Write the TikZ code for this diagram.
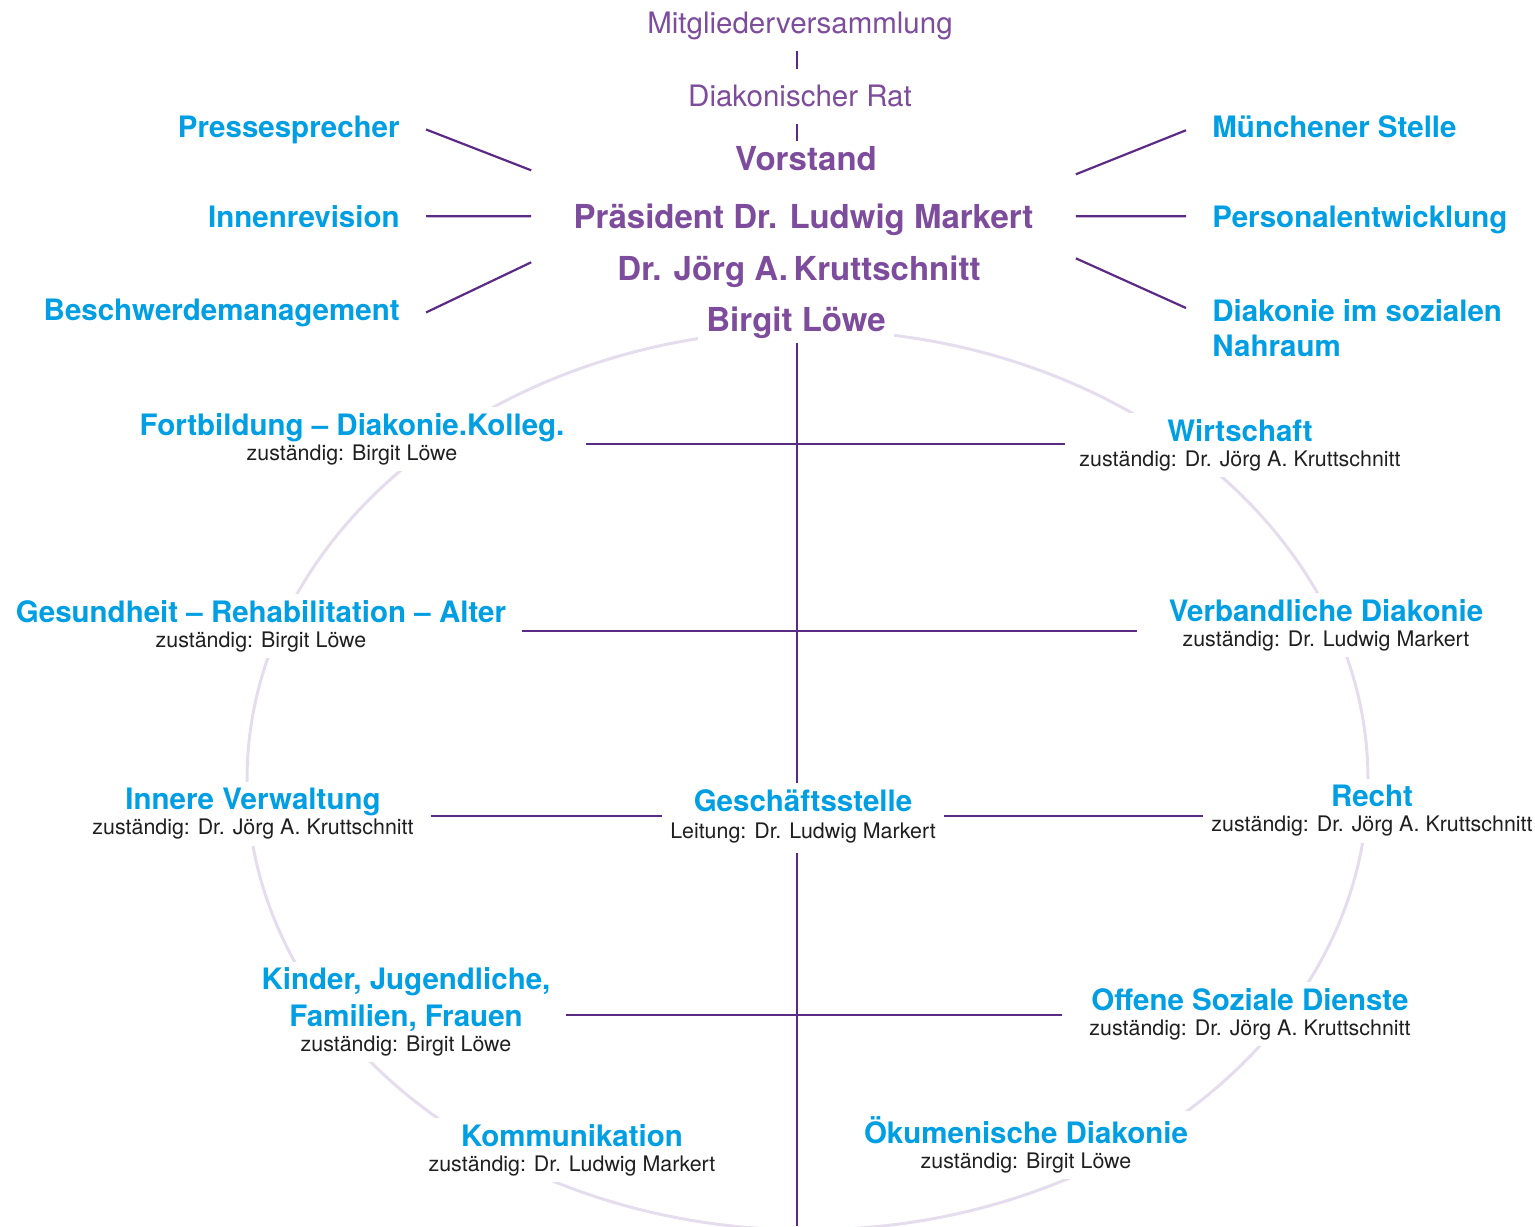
\documentclass[tikz,border=0pt]{standalone}
\usepackage{fontspec}
\setmainfont{TeX Gyre Heros}
\usetikzlibrary{positioning}

\definecolor{dwblau}{HTML}{009FE3}
\definecolor{dwlila}{HTML}{7D4C9C}
\definecolor{dwlinie}{HTML}{5A2A85}
\definecolor{dwring}{HTML}{E5DDEE}

\newcommand{\zfont}{\color{black!88}\mdseries\fontsize{10.7}{12.5}\selectfont}

\begin{document}
\begin{tikzpicture}[x=0.5pt, y=-0.5pt,
    link/.style={draw=dwlinie, line width=1.1pt},
    row/.style={draw=dwlinie, line width=1.4pt},
    gremium/.style={text=dwlila, inner sep=0pt, font=\fontsize{14.75}{17}\selectfont},
    vorstand/.style={text=dwlila, inner sep=0pt, font=\bfseries\fontsize{16.5}{20}\selectfont},
    stab/.style={text=dwblau, inner xsep=13pt, inner ysep=0pt, align=left, font=\bfseries\fontsize{14.75}{17.5}\selectfont},
    bereich/.style={text=dwblau, fill=white, inner xsep=4pt, inner ysep=3pt, align=center, font=\bfseries\fontsize{14.75}{12.5}\selectfont}]

  \useasboundingbox (0,0) rectangle (1535,1226);

  % ring behind the departments
  \draw[dwring, line width=1.5pt] (807.5,780) ellipse [x radius=560.5, y radius=450];

  % boards
  \node[gremium, anchor=base] (mv) at (800,33) {Mitgliederversammlung};
  \node[gremium, anchor=base] (rat) at (800,106) {Diakonischer Rat};
  \node[vorstand, anchor=base] (vorst) at (806,170) {Vorstand};
  \node[vorstand, anchor=base, inner xsep=21pt] (praes) at (803.5,228) {Präsident Dr. Ludwig Markert};
  \node[vorstand, anchor=base] (krutt) at (799,280) {Dr. Jörg A.\,Kruttschnitt};
  \node[vorstand, anchor=base, fill=white, inner xsep=4pt, inner ysep=2pt] (loewe) at (796,331) {Birgit Löwe};

  % staff units
  \node[stab, anchor=base east] (presse) at (426,137) {Pressesprecher};
  \node[stab, anchor=base east] (revision) at (426,227) {Innenrevision};
  \node[stab, anchor=base east] (beschwerde) at (426,320) {Beschwerdemanagement};
  \node[stab, anchor=base west] (muenchen) at (1186,137) {Münchener Stelle};
  \node[stab, anchor=base west] (personal) at (1186,227) {Personalentwicklung};
  \node[stab, anchor=north west] (nahraum) at (1186,299) {Diakonie im sozialen\\Nahraum};

  % departments
  \node[bereich] (fort) at (352,439) {Fortbildung – Diakonie.Kolleg.\\{\zfont zuständig: Birgit Löwe}};
  \node[bereich] (wirt) at (1240,445) {Wirtschaft\\{\zfont zuständig: Dr. Jörg A. Kruttschnitt}};
  \node[bereich] (gesund) at (261,626) {Gesundheit – Rehabilitation – Alter\\{\zfont zuständig: Birgit Löwe}};
  \node[bereich] (verband) at (1326,625) {Verbandliche Diakonie\\{\zfont zuständig: Dr. Ludwig Markert}};
  \node[bereich] (innere) at (253,814) {Innere Verwaltung\\{\zfont zuständig: Dr. Jörg A. Kruttschnitt}};
  \node[bereich] (gs) at (803,816) {Geschäftsstelle\\[1pt]{\zfont Leitung: Dr. Ludwig Markert}};
  \node[bereich] (recht) at (1372,811) {Recht\\{\zfont zuständig: Dr. Jörg A. Kruttschnitt}};
  \node[bereich] (kinder) at (406,1012) {Kinder, Jugendliche,\\[3pt]Familien, Frauen\\{\zfont zuständig: Birgit Löwe}};
  \node[bereich] (offen) at (1250,1014) {Offene Soziale Dienste\\{\zfont zuständig: Dr. Jörg A. Kruttschnitt}};
  \node[bereich] (komm) at (572,1150) {Kommunikation\\{\zfont zuständig: Dr. Ludwig Markert}};
  \node[bereich] (oekum) at (1026,1145) {Ökumenische Diakonie\\{\zfont zuständig: Birgit Löwe}};

  \coordinate (row1) at (797,444);
  \coordinate (row2) at (797,631);
  \coordinate (row3) at (797,816);
  \coordinate (row4) at (797,1015);
  \coordinate (fuss) at (797,1226);

  % chain of boards
  \draw[link, shorten <=5.4pt, shorten >=7.4pt] (mv.south -| row1) -- (rat.north -| row1);
  \draw[link, shorten <=8.5pt, shorten >=2.1pt] (rat.south -| row1) -- (vorst.north -| row1);

  % staff lines
  \draw[link] (presse.east) -- ([yshift=24.5pt]praes.west);
  \draw[link] (revision.east) -- ([yshift=1.5pt]praes.west);
  \draw[link] (beschwerde.east) -- ([yshift=-21.5pt]praes.west);
  \draw[link] ([yshift=-2pt]muenchen.west) -- ([yshift=22.5pt]praes.east);
  \draw[link] ([yshift=1.5pt]personal.west) -- ([yshift=1.5pt]praes.east);
  \draw[link] ([yshift=10pt]nahraum.west) -- ([yshift=-19.5pt]praes.east);

  % trunk and rows
  \draw[link] (loewe.south -| row1) -- (gs.north -| row1);
  \draw[link, shorten <=2pt] (gs.south -| row1) -- (fuss);
  \draw[row, shorten <=6.5pt, shorten >=3pt] (fort.east |- row1) -- (wirt.west |- row1);
  \draw[row, shorten <=4pt, shorten >=11.5pt] (gesund.east |- row2) -- (verband.west |- row2);
  \draw[row, shorten <=4.5pt] (innere.east |- row3) -- (gs.west |- row3);
  \draw[row] (gs.east |- row3) -- (recht.west |- row3);
  \draw[row, shorten <=3.5pt, shorten >=9.5pt] (kinder.east |- row4) -- (offen.west |- row4);
\end{tikzpicture}
\end{document}
